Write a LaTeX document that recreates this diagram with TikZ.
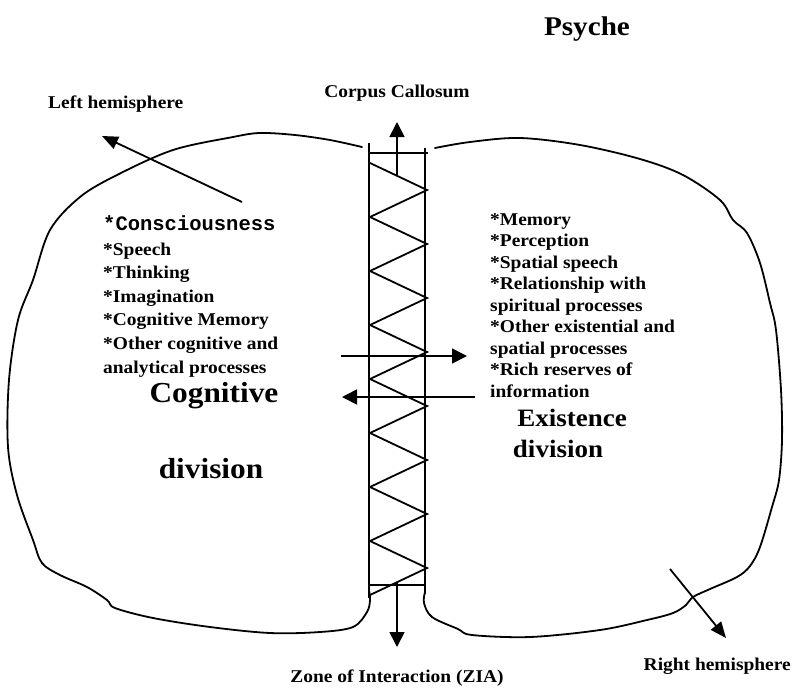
\documentclass[tikz,border=0pt]{standalone}
\usepackage{fontspec}
\setmainfont{Liberation Serif}[FakeStretch=1.08]
\setmonofont{Liberation Mono}
\usetikzlibrary{arrows.meta,positioning}
\tikzset{
  lobe/.style    ={line width=1.8pt,line join=round,line cap=round},
  band/.style    ={line width=1.4pt},
  zig/.style     ={line width=1.8pt,line join=miter},
  ar/.style      ={-{Triangle[length=15pt,width=15pt]},line width=1.6pt},
  hemiar/.style  ={-{Triangle[length=16pt,width=13pt]},line width=1.8pt},
  lbl/.style     ={font=\bfseries\fontsize{18}{20}\selectfont,inner sep=0pt},
  listitem/.style={font=\bfseries\fontsize{18}{20}\selectfont,inner sep=0pt,anchor=base west},
  big/.style     ={font=\bfseries\fontsize{29}{32}\selectfont,inner sep=0pt,anchor=base},
  bigex/.style   ={font=\bfseries\fontsize{25}{28}\selectfont,inner sep=0pt,anchor=base},
}
\begin{document}
\begin{tikzpicture}[x=1pt,y=-1pt]
  \useasboundingbox (0,0) rectangle (792,689);
  % hemispheres
  \draw[lobe] plot[smooth,tension=0.55] coordinates {(362,147) (330,140) (295,135) (260,133)
    (233,137) (173,150) (117,175) (80,197) (50,230) (33,280) (18,320) (9,380) (8,447)
    (17,495) (33,540) (42,563) (60,575) (87,587) (107,600) (115,608) (153,618) (210,627)
    (270,633) (320,632) (353,627) (367,612) (370,600) (369,590)};
  \draw[lobe] plot[smooth,tension=0.55] coordinates {(435,148) (470,142) (520,138) (580,145)
    (640,159) (683,175) (720,200) (733,220) (747,233) (760,263) (770,303) (776,330)
    (781,390) (782,440) (779,480) (772,507) (760,547) (750,566) (737,577) (710,589)
    (693,597) (686,605) (673,613) (647,620) (600,630) (530,637) (472,635) (458,629)
    (432,617) (424,603) (425,592)};
  % corpus callosum band
  \draw[band] (369,143) -- (369,598);
  \draw[band] (425,148) -- (425,594);
  \draw[band] (369,153) -- (428,153);
  \draw[band] (369,585) -- (425,585);
  \draw[zig] (370,163) \foreach \k in {0,...,7}{ -- (427,{190+54*\k}) -- (370,{217+54*\k}) };
  % arrows
  \coordinate (upS) at (397,175);  \coordinate (upE) at (397,122);
  \coordinate (dnS) at (397,582);  \coordinate (dnE) at (397,647);
  \coordinate (rtS) at (341,356);  \coordinate (rtE) at (467,356);
  \coordinate (ltS) at (475,397);  \coordinate (ltE) at (342,397);
  \coordinate (lhS) at (242,202);  \coordinate (lhE) at (102,136);
  \coordinate (rhS) at (670,569);  \coordinate (rhE) at (726,638);
  \draw[ar] (upS) -- (upE);
  \draw[ar] (dnS) -- (dnE);
  \draw[ar] (rtS) -- (rtE);
  \draw[ar] (ltS) -- (ltE);
  \draw[hemiar] (lhS) -- (lhE);
  \draw[hemiar] (rhS) -- (rhE);
  % labels
  \node[big,font=\bfseries\fontsize{27}{30}\selectfont] (psyche) at (587,35) {Psyche};
  \node[lbl,anchor=base] (corpus) at (397,97) {Corpus Callosum};
  \node[lbl,anchor=base west] (lefthemi) at (48,108) {Left hemisphere};
  \node[lbl,anchor=base east] (righthemi) at (791,670) {Right hemisphere};
  \node[lbl,anchor=base] (zia) at (397,682) {Zone of Interaction (ZIA)};
  % cognitive division
  \node[listitem,font=\ttfamily\bfseries\fontsize{20.5}{22}\selectfont] (consc) at (103,230) {*Consciousness};
  \foreach \txt [count=\i] in {*Speech,*Thinking,*Imagination,*Cognitive Memory,
      *Other cognitive and,analytical processes}
    \node[listitem] (cog\i) at (103,{255+23.6*(\i-1)}) {\txt};
  \node[big] (cogtitle) at (214,402) {Cognitive};
  \node[big] (cogdiv) at (211,478) {division};
  % existence division
  \foreach \txt [count=\i] in {*Memory,*Perception,*Spatial speech,*Relationship with,
      spiritual processes,*Other existential and,spatial processes,*Rich reserves of,information}
    \node[listitem] (ex\i) at (490,{225+21.5*(\i-1)}) {\txt};
  \node[bigex] (extitle) at (572,426) {Existence};
  \node[bigex] (exdiv) at (558,457) {division};
\end{tikzpicture}
\end{document}
